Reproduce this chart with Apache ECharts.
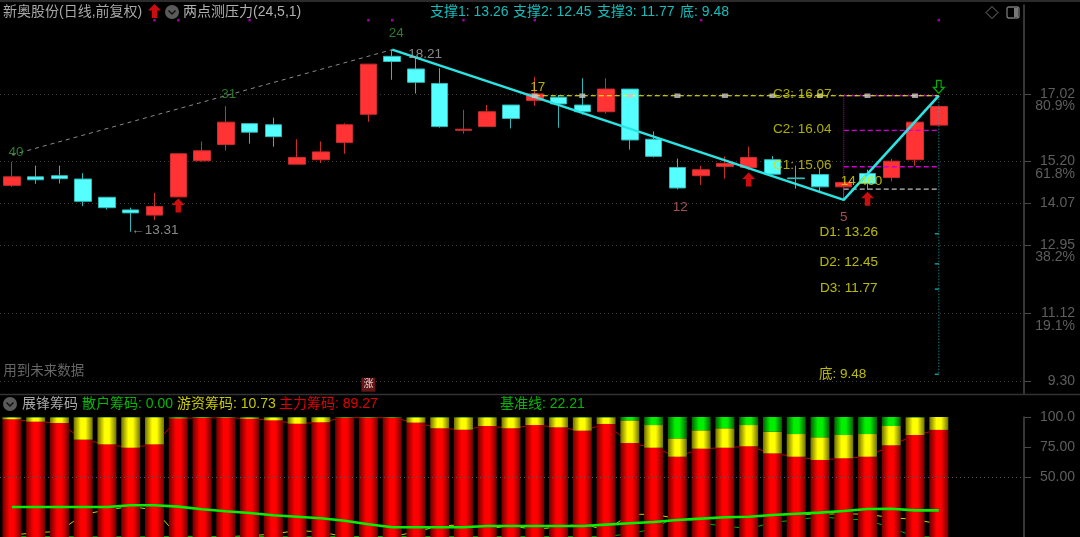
<!DOCTYPE html>
<html><head><meta charset="utf-8">
<style>html,body{margin:0;padding:0;background:#000}#c{width:1080px;height:537px}</style>
<script src="https://cdn.jsdelivr.net/npm/echarts@6/dist/echarts.min.js"></script>
</head><body><div id="c"></div>
<script>
const FONT = "'Liberation Sans','Noto Sans CJK SC',sans-serif";
// [open, close, low, high]
const candles = [
[14.56,14.79,14.52,15.19],[14.79,14.71,14.60,15.09],[14.82,14.74,14.61,15.09],[14.73,14.13,14.00,14.89],
[14.24,13.96,13.91,14.24],[13.90,13.82,13.31,13.96],[13.76,13.99,13.63,14.36],[14.25,15.41,14.25,15.41],
[15.22,15.49,15.20,15.74],[15.66,16.26,15.50,16.69],[16.22,15.99,15.68,16.22],[16.19,15.87,15.60,16.38],
[15.13,15.31,15.13,15.80],[15.25,15.46,15.16,15.74],[15.71,16.19,15.41,16.23],[16.47,17.82,16.27,17.82],
[18.03,17.89,17.40,18.21],[17.69,17.33,17.03,18.02],[17.30,16.14,16.11,17.71],[16.04,16.07,15.95,16.59],
[16.14,16.54,16.14,16.72],[16.72,16.36,16.09,16.72],[16.84,17.02,16.70,17.48],[16.93,16.75,16.11,16.99],
[16.72,16.54,16.46,17.44],[16.54,17.15,16.49,17.44],[17.15,15.78,15.52,17.15],[15.80,15.34,15.31,16.01],
[15.04,14.49,14.45,15.28],[14.82,14.98,14.57,15.09],[15.07,15.15,14.74,15.34],[15.04,15.31,14.98,15.60],
[15.25,14.86,14.80,15.35],[14.76,14.74,14.47,15.09],[14.85,14.52,14.35,15.02],[14.52,14.64,14.17,14.64],
[14.88,14.61,14.44,14.98],[14.77,15.21,14.67,15.28],[15.25,16.26,15.09,16.26],[16.18,16.68,16.18,16.68]];
const slotCount = 43;
const slots = Array.from({length: slotCount}, (_, i) => String(i));
const mainFund = [98.1,96.1,95,81.1,77.2,74.4,77.2,98.9,99.2,99.4,98.6,97.2,94.4,95.6,99.4,99.4,99.4,95.3,90.6,89.4,92.5,90.6,93.3,91.4,88.6,94.2,78.3,74.4,66.9,73.6,74.4,75.6,69.7,66.9,64.2,65.6,66.9,76.4,85,89.27];
const hotMoney = [1.6,3.6,4.7,18.7,22.6,25.4,22.6,0.6,0.4,0.3,1,2.5,5.4,4.2,0.2,0.2,0.2,4.4,9.1,10.3,7.2,9.1,6.4,8.3,11.1,5.5,18.9,18.9,15.3,15.3,16.2,17.7,18.1,18.9,18.9,19.4,18.9,16.1,14.7,10.73];
const retail = [0.3,0.3,0.3,0.2,0.2,0.2,0.2,0.5,0.4,0.3,0.4,0.3,0.2,0.2,0.4,0.4,0.4,0.3,0.3,0.3,0.3,0.3,0.3,0.3,0.3,0.3,2.8,6.7,17.8,11.1,9.4,6.7,12.2,14.2,16.9,15,14.2,7.5,0.3,0];
const baseLine = [25,25,25,25,25,26.4,26.4,25.3,23.1,21.4,20,18.1,16.9,15.6,13.6,10.6,8.1,8.1,8.1,8.1,9.2,9.2,9.2,9.2,9.2,10.3,11.4,12.5,14.2,15.3,16.4,16.9,18.3,19.4,20.3,21.7,23.3,23.6,22.21,22.21];
const priceTicks = ['17.02','15.20','14.07','12.95','11.12','9.30'];
const pctTicks = [[16.70,'80.9%'],[14.87,'61.8%'],[12.64,'38.2%'],[10.78,'19.1%']];
const lowerTicks = [100,75,50];
const lowerTickText = {100:'100.0',75:'75.00',50:'50.00'};
const trendDash = [[0,15.38],[16,18.21]];
const trendSolid = [[16,18.21],[35,14.17],[39,16.97]];
const c3Line = [[22,16.97],[39,16.97]];
const c3Marks = [22,24,26,28,30,32,34,36,38];
const resist = [16.97,16.04,15.06];
const entryLine = 14.46;
const lowIdx = 35, lastIdx = 39;
const supports = [13.26,12.45,11.77,9.48];
const topDots = [6,7,10,15,16,19,22,29,39];
const upArrows = [[6,19.25],[7,14.02],[31,14.72],[36,14.20]];
const downArrows = [[39,17.21]];
// text, slot, price, dx, colour
const notes = [
['40',0,15.46,4,'#3a9a3a'],['31',9,17.02,3,'#3a9a3a'],['24',16,18.66,4,'#3a9a3a'],
['17',22,17.21,3,'#e0e000'],['12',28,13.98,3,'#c86464'],['5',35,13.71,0,'#c86464'],
['←',5,13.34,7,'#aaaaaa'],['13.31',5,13.34,31,'#aaaaaa'],['18.21',16,18.09,33,'#aaaaaa'],
['C3: 16.97',33,17.02,6,'#d8d800'],['C2: 16.04',33,16.08,6,'#d8d800'],['C1: 15.06',33,15.11,6,'#d8d800'],
['14.460',36,14.68,-6,'#e0e000'],['D1: 13.26',35,13.31,5,'#e8e800'],['D2: 12.45',35,12.48,5,'#e8e800'],
['D3: 11.77',35,11.80,5,'#e8e800'],['底: 9.48',35,9.49,-1,'#e8e800'],['用到未来数据',1,9.55,8,'#808080']];
// text, x, colour
const headerTop = [['新奥股份(日线,前复权)',3,'#a8a8a8'],['两点测压力(24,5,1)',183,'#b0b0b0'],
['支撑1: 13.26',430,'#12bdbd'],['支撑2: 12.45',513,'#12bdbd'],['支撑3: 11.77',597,'#12bdbd'],['底: 9.48',680,'#12bdbd']];
const headerLow = [['展锋筹码',22,'#a8a8a8'],['散户筹码: 0.00',82,'#00b800'],['游资筹码: 10.73',177,'#c8c800'],
['主力筹码: 89.27',279,'#e00000'],['基准线: 22.21',500,'#00b800']];

const ARROW_UP = 'path://M6 0 L12 6 L8.5 6 L8.5 13 L3.5 13 L3.5 6 L0 6 Z';
const ARROW_DN = 'path://M3.5 0 L8.5 0 L8.5 7 L12 7 L6 13 L0 7 L3.5 7 Z';

const G = echarts.graphic.LinearGradient;
const shade = (dark, mid) => new G(0,0,1,0,[{offset:0,color:dark},{offset:.38,color:mid},{offset:.62,color:mid},{offset:1,color:dark}]);

function seg(data, color, type, width, z){
  return {type:'line',xAxisIndex:0,yAxisIndex:0,data,symbol:'none',silent:true,z:z||4,
    lineStyle:{color,type:type||'solid',width:width||1},connectNulls:true};
}
const series = [
  {type:'candlestick',xAxisIndex:0,yAxisIndex:0,data:candles,barWidth:17,z:3,
   itemStyle:{color:'#ff3333',color0:'#55ffff',borderColor:'#cc2c2c',borderColor0:'#2fb8b8',borderWidth:1}},
  seg(trendDash,'#8a8a8a',[4,4],1,4),
  seg(c3Line,'#ffff00',[5,3],1.2,5),
  seg([[lowIdx,resist[0]],[lastIdx,resist[0]]],'#d000d0',[5,3],1,4),
  seg([[lowIdx,resist[1]],[lastIdx,resist[1]]],'#d000d0',[5,3],1.2,4),
  seg([[lowIdx,resist[2]],[lastIdx,resist[2]]],'#d000d0',[5,3],1.4,4),
  seg([[lowIdx,entryLine],[lastIdx,entryLine]],'#c0c0c0',[5,3],1.2,4),
  seg([[lowIdx,resist[0]],[lowIdx,14.17]],'#b000b0',[1,1],1,4),
  seg([[lastIdx,resist[0]],[lastIdx,supports[3]]],'#10b0b0',[1,2],1,4),
  seg(trendSolid,'#2ae4e4',null,2.6,6),
  {type:'scatter',xAxisIndex:0,yAxisIndex:0,silent:true,z:7,symbol:'rect',symbolSize:[6,4.5],
   itemStyle:{color:'#c8c8c8'},data:c3Marks.map(i=>[i,16.97])},
  {type:'scatter',xAxisIndex:0,yAxisIndex:0,silent:true,z:5,symbol:'rect',symbolSize:[4,1.5],symbolOffset:[-2,0],
   itemStyle:{color:'#10c0c0'},data:supports.map(v=>[lastIdx,v])},
  {type:'scatter',xAxisIndex:0,yAxisIndex:0,silent:true,z:5,symbol:'rect',symbolSize:[2.4,2.4],
   itemStyle:{color:'#d000d0'},data:topDots.map(i=>[i,19.0])},
  {type:'scatter',xAxisIndex:0,yAxisIndex:0,silent:true,z:8,symbol:ARROW_UP,symbolSize:[13,14],
   itemStyle:{color:'#ff1010'},data:upArrows},
  {type:'scatter',xAxisIndex:0,yAxisIndex:0,silent:true,z:8,symbol:ARROW_DN,symbolSize:[11,13],
   itemStyle:{color:'transparent',borderColor:'#00e000',borderWidth:1.2},data:downArrows},
  {type:'scatter',xAxisIndex:0,yAxisIndex:0,silent:true,z:9,symbolSize:0,
   data:notes.map(n=>({value:[n[1],n[2]],label:{show:true,position:'inside',formatter:n[0],offset:[n[3],0],
     color:n[4],fontFamily:FONT,fontSize:13.5,align:'center',verticalAlign:'middle'}}))},
  {type:'scatter',xAxisIndex:0,yAxisIndex:0,silent:true,z:9,symbolSize:0,
   data:[{value:[15,9.20],label:{show:true,position:'inside',formatter:'涨',color:'#fff',fontFamily:FONT,fontSize:10,
     backgroundColor:'#7a1c1c',padding:[2,2],align:'center',verticalAlign:'middle'}}]},
  // lower panel
  {type:'line',xAxisIndex:1,yAxisIndex:2,data:mainFund,symbol:'none',silent:true,z:2,lineStyle:{color:'#c00000',width:1}},
  {type:'line',xAxisIndex:1,yAxisIndex:2,data:hotMoney,symbol:'none',silent:true,z:2,lineStyle:{color:'#d0d000',width:1},
   markLine:{silent:true,symbol:'none',label:{show:false},lineStyle:{color:'#555',type:[1,3],width:1},data:[{yAxis:50}]}},
  {type:'line',xAxisIndex:1,yAxisIndex:2,data:retail,symbol:'none',silent:true,z:2,lineStyle:{color:'#00b000',width:1}},
  {type:'bar',xAxisIndex:1,yAxisIndex:2,stack:'s',barWidth:19,data:mainFund,z:3,silent:true,itemStyle:{color:shade('#700000','#ff0000')}},
  {type:'bar',xAxisIndex:1,yAxisIndex:2,stack:'s',barWidth:19,data:hotMoney,z:3,silent:true,itemStyle:{color:shade('#707000','#ffff00')}},
  {type:'bar',xAxisIndex:1,yAxisIndex:2,stack:'s',barWidth:19,data:retail,z:3,silent:true,itemStyle:{color:shade('#006000','#00f000')}},
  {type:'line',xAxisIndex:1,yAxisIndex:2,data:baseLine,symbol:'none',silent:true,z:5,lineStyle:{color:'#00f000',width:2.6}}
];

const txt = (t,x,y,fill) => ({type:'text',silent:true,z:20,style:{text:t,x,y,fill,font:'14px '+FONT,textVerticalAlign:'middle'}});
const chevron = (x,y) => ([
  {type:'circle',silent:true,z:20,shape:{cx:x,cy:y,r:7},style:{fill:'#5a5a5a'}},
  {type:'polyline',silent:true,z:21,shape:{points:[[x-3.5,y-1.5],[x,y+2],[x+3.5,y-1.5]]},style:{stroke:'#111',lineWidth:1.5,fill:null}}]);
const rule = (x1,y1,x2,y2,stroke) => ({type:'line',silent:true,z:1,shape:{x1,y1,x2,y2},style:{stroke,lineWidth:1.5}});
const graphic = [
  rule(0,1,1080,1,'#3a3a3a'),rule(0,394.5,1080,394.5,'#333'),
  ...headerTop.map(h=>txt(h[0],h[1],12,h[2])),
  ...headerLow.map(h=>txt(h[0],h[1],404.5,h[2])),
  ...chevron(172,12),...chevron(10,404),
  {type:'polygon',silent:true,z:20,shape:{points:[[992,6.5],[998,12.5],[992,18.5],[986,12.5]]},style:{fill:null,stroke:'#777',lineWidth:1}},
  {type:'rect',silent:true,z:20,shape:{x:1007,y:7,width:12,height:11,r:2},style:{fill:null,stroke:'#777',lineWidth:1.3}},
  {type:'rect',silent:true,z:20,shape:{x:1014,y:8,width:4,height:9},style:{fill:'#777'}}
];

const axisLine = {show:true,lineStyle:{color:'#484848',width:1.5}};
const tickStyle = {lineStyle:{color:'#484848'},length:7};
const labelBase = {color:'#5e5e5e',fontFamily:FONT,fontSize:14,align:'right'};
const chart = echarts.init(document.getElementById('c'),null,{renderer:'canvas'});
chart.setOption({
  animation:false,backgroundColor:'#000',graphic,
  grid:[{left:-1.4,top:5,width:1023.4,height:389},{left:-1.4,top:417,width:1023.4,height:120}],
  xAxis:[
    {type:'category',gridIndex:0,data:slots,boundaryGap:true,axisLine:{show:false},axisTick:{show:false},axisLabel:{show:false},splitLine:{show:false}},
    {type:'category',gridIndex:1,data:slots,boundaryGap:true,axisLine:{show:false},axisTick:{show:false},axisLabel:{show:false},splitLine:{show:false}}
  ],
  yAxis:[
    {type:'value',gridIndex:0,position:'right',offset:2,min:8.95,max:19.41,scale:true,
     axisLine:axisLine,axisTick:{show:true,customValues:priceTicks.map(Number),...tickStyle},
     axisLabel:{customValues:priceTicks.map(Number),formatter:v=>priceTicks.find(t=>Number(t)===v)||'',margin:51,...labelBase},
     splitLine:{show:true,lineStyle:{color:'#3c3c3c',type:[1,3],width:1}}},
    {type:'value',gridIndex:0,position:'right',offset:2,min:8.95,max:19.41,scale:true,
     axisLine:{show:false},axisTick:{show:false},splitLine:{show:false},
     axisLabel:{customValues:pctTicks.map(p=>p[0]),formatter:v=>(pctTicks.find(p=>p[0]===v)||[0,''])[1],margin:51,...labelBase}},
    {type:'value',gridIndex:1,position:'right',offset:2,min:0,max:100,
     axisLine:axisLine,axisTick:{show:true,customValues:lowerTicks,...tickStyle},
     axisLabel:{customValues:lowerTicks,formatter:v=>lowerTickText[v]||'',margin:51,...labelBase},
     splitLine:{show:false}}
  ],
  series
});
</script></body></html>
